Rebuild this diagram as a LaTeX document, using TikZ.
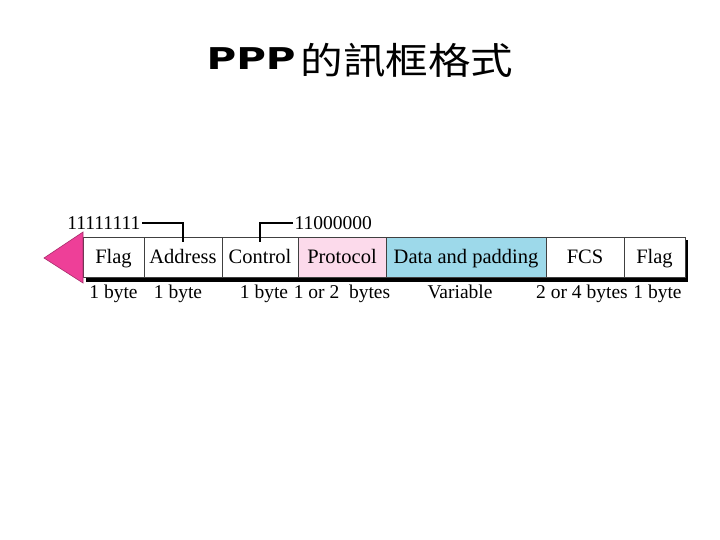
\documentclass[tikz,border=0pt]{standalone}
\usepackage{fontspec}
\setmainfont{Liberation Serif}
\newfontfamily\cjkfont[FakeStretch=1.15]{Noto Sans CJK TC}
\newfontfamily\pppfont[FakeStretch=1.35]{DejaVu Sans}
\usepackage{tikz}
\usetikzlibrary{positioning, calc}

\definecolor{protopink}{HTML}{FCDAEB}
\definecolor{datablue}{HTML}{9DD9EA}
\definecolor{flagarrow}{HTML}{EE3F98}

\begin{document}
\begin{tikzpicture}[
  x=1pt, y=-1pt,
  cell/.style  = {draw=black!75, line width=0.9pt, fill=white, rectangle,
                  minimum height=40pt, inner sep=0pt, outer sep=0pt,
                  text height=15pt, text depth=2pt,
                  font=\fontsize{20.5}{23}\selectfont},
  size/.style  = {inner sep=0pt, text height=13.5pt, text depth=4pt,
                  font=\fontsize{19.5}{22}\selectfont},
  bits/.style  = {inner sep=1.5pt, font=\fontsize{19.5}{22}\selectfont},
  wire/.style  = {line width=1.6pt},
]
  \useasboundingbox (0,0) rectangle (720,540);

  % title
  \node (title) at (360,60)
    {\raisebox{5pt}{\pppfont\bfseries\fontsize{30}{32}\selectfont PPP}\hspace{5pt}{\cjkfont\fontsize{37}{40}\selectfont 的訊框格式}};

  % shadow behind the frame
  \fill (86,240) rectangle (688,282);

  % frame fields
  \node[cell, minimum width=61pt, anchor=west] (flagL) at (83,257) {Flag};
  \node[cell, minimum width=78pt, right=0pt of flagL] (addr)  {Address};
  \node[cell, minimum width=76pt, right=0pt of addr]  (ctrl)  {Control};
  \node[cell, minimum width=88pt, right=0pt of ctrl, fill=protopink] (proto) {Protocol};
  \node[cell, minimum width=160pt, right=0pt of proto, fill=datablue] (data) {Data and padding};
  \node[cell, minimum width=78pt, right=0pt of data]  (fcs)   {FCS};
  \node[cell, minimum width=61pt, right=0pt of fcs]   (flagR) {Flag};

  % direction arrow
  \filldraw[fill=flagarrow, draw=flagarrow!70!black, line width=0.6pt]
    (44,258) -- (flagL.west |- 0,232) -- (flagL.west |- 0,283) -- cycle;

  % field sizes
  \node[size, below=8pt of flagL]              (sflagL) {1 byte};
  \node[size, below=8pt of addr, xshift=-5pt]  (saddr)  {1 byte};
  \node[size, below=8pt of ctrl, xshift=4pt]   (sctrl)  {1 byte};
  \node[size, below=8pt of proto]              (sproto) {1 or 2~~bytes};
  \node[size, below=8pt of data, xshift=-6pt]  (sdata)  {Variable};
  \node[size, below=8pt of fcs, xshift=-3pt]   (sfcs)   {2 or 4 bytes};
  \node[size, below=8pt of flagR, xshift=3pt]  (sflagR) {1 byte};

  % fixed values
  \node[bits, anchor=east] (ones)  at (142,223) {11111111};
  \node[bits, anchor=west] (ctrlv) at (293,223) {11000000};

  \draw[wire] (ones.east)  -| ([yshift=-5pt]addr.north);
  \draw[wire] (ctrlv.west) -| ([yshift=-5pt]ctrl.north);
\end{tikzpicture}
\end{document}
